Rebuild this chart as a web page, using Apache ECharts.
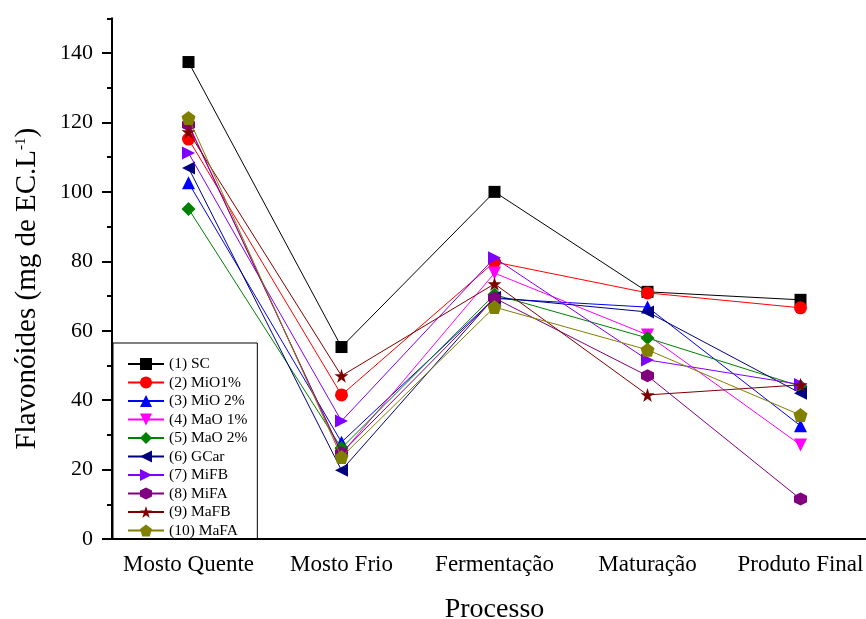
<!DOCTYPE html>
<html>
<head>
<meta charset="utf-8">
<script src="https://cdn.jsdelivr.net/npm/echarts@6/dist/echarts.min.js"></script>
<style>html,body{margin:0;padding:0;background:#fff}#c{width:866px;height:619px}</style>
</head>
<body>
<div id="c"></div>
<script>
const categories = ['Mosto Quente', 'Mosto Frio', 'Fermentação', 'Maturação', 'Produto Final'];
const seriesNames = ['(1) SC', '(2) MiO1%', '(3) MiO 2%', '(4) MaO 1%', '(5) MaO 2%', '(6) GCar', '(7) MiFB', '(8) MiFA', '(9) MaFB', '(10) MaFA'];
const sc    = [137.4, 55.3, 100.0, 71.2, 68.9];
const mio1  = [115.2, 41.5, 79.8, 70.9, 66.6];
const mio2  = [102.6, 27.9, 69.3, 66.8, 32.6];
const mao1  = [119.6, 24.5, 76.6, 58.8, 27.1];
const mao2  = [95.1, 26.2, 70.4, 57.9, 44.0];
const gcar  = [106.9, 19.8, 69.6, 65.4, 42.0];
const mifb  = [111.2, 34.0, 81.0, 51.6, 44.5];
const mifa  = [119.3, 24.8, 69.4, 47.0, 11.5];
const mafb  = [117.3, 47.0, 73.5, 41.5, 44.4];
const mafa  = [121.3, 23.6, 66.8, 54.5, 35.7];
const yTickLabels = [0, 20, 40, 60, 80, 100, 120, 140];

const values = [sc, mio1, mio2, mao1, mao2, gcar, mifb, mifa, mafb, mafa];
const colors = ['#000000', '#FF0000', '#0000FF', '#FF00FF', '#008000', '#000080', '#8000FF', '#800080', '#800000', '#808000'];
const symbols = [
  'rect', 'circle', 'triangle',
  'path://M-1,-1L1,-1L0,1Z',
  'diamond',
  'path://M1,-1L1,1L-1,0Z',
  'path://M-1,-1L-1,1L1,0Z',
  'path://M0,-1L0.866,-0.5L0.866,0.5L0,1L-0.866,0.5L-0.866,-0.5Z',
  'path://M0,-1L0.2245,-0.309L0.951,-0.309L0.363,0.118L0.588,0.809L0,0.382L-0.588,0.809L-0.363,0.118L-0.951,-0.309L-0.2245,-0.309Z',
  'path://M0,-1L0.951,-0.309L0.588,0.809L-0.588,0.809L-0.951,-0.309Z'
];
const sizes = [12, 13, 13, 13, 14, 13, 13, 13, 14, 14];
const FONT = '"Liberation Serif", "DejaVu Serif", serif';

const series = seriesNames.map((n, i) => ({
  name: n, type: 'line', xAxisIndex: 0, yAxisIndex: 0,
  data: values[i], symbol: symbols[i], symbolSize: sizes[i],
  showAllSymbol: true,
  lineStyle: { color: colors[i], width: 1 },
  itemStyle: { color: colors[i] },
  emphasis: { disabled: true },
  animation: false, z: 2 + i
}));

const chart = echarts.init(document.getElementById('c'));
chart.setOption({
  animation: false,
  backgroundColor: '#fff',
  grid: { left: 112, right: -11, top: 18.3, bottom: 80, containLabel: false, outerBoundsMode: 'none' },
  legend: {
    orient: 'vertical', left: 113, top: 343,
    data: seriesNames,
    backgroundColor: '#fff', borderColor: '#000', borderWidth: 1,
    padding: [13, 10, 0, 14], itemGap: 2.5, itemWidth: 36, itemHeight: 15,
    textStyle: { fontFamily: FONT, fontSize: 15.5, color: '#000' },
    z: 20
  },
  xAxis: [{
    type: 'category', data: categories, position: 'bottom', boundaryGap: true,
    axisLine: { lineStyle: { color: '#000', width: 2 } },
    axisTick: { alignWithLabel: true, length: 8, lineStyle: { color: '#000', width: 2 } },
    axisLabel: { fontFamily: FONT, fontSize: 23, color: '#000', margin: 14, interval: 0, hideOverlap: false },
    splitLine: { show: false },
    name: 'Processo', nameLocation: 'middle', nameGap: 57,
    nameTextStyle: { fontFamily: FONT, fontSize: 28, color: '#000' }
  }, {
    type: 'category', data: categories, position: 'bottom', boundaryGap: true,
    axisLine: { show: false },
    axisTick: { length: 4, lineStyle: { color: '#000', width: 2 } },
    axisLabel: { show: false },
    splitLine: { show: false }
  }],
  yAxis: [{
    type: 'value', min: 0, max: 150, interval: 10, position: 'left',
    axisLine: { show: true, lineStyle: { color: '#000', width: 2 } },
    axisTick: { show: true, length: 5, lineStyle: { color: '#000', width: 2 } },
    axisLabel: {
      fontFamily: FONT, fontSize: 22, color: '#000', margin: 19,
      formatter: v => (yTickLabels.indexOf(v) >= 0 ? String(v) : '')
    },
    splitLine: { show: false },
    name: '{a|Flavonóides (mg de EC.L}{s|-1}{a|)}',
    nameLocation: 'middle', nameGap: 70, nameRotate: 90,
    nameTextStyle: {
      padding: [0, 20, 0, 0],
      rich: {
        a: { fontFamily: FONT, fontSize: 29, color: '#000' },
        s: { fontFamily: FONT, fontSize: 15, color: '#000', padding: [0, 0, 13, 0] }
      }
    }
  }, {
    type: 'value', min: 0, max: 150, interval: 20, position: 'left',
    axisLine: { show: false },
    axisTick: { show: true, length: 10, customValues: yTickLabels, lineStyle: { color: '#000', width: 2 } },
    axisLabel: { show: false },
    splitLine: { show: false }
  }],
  series: series
});
</script>
</body>
</html>
